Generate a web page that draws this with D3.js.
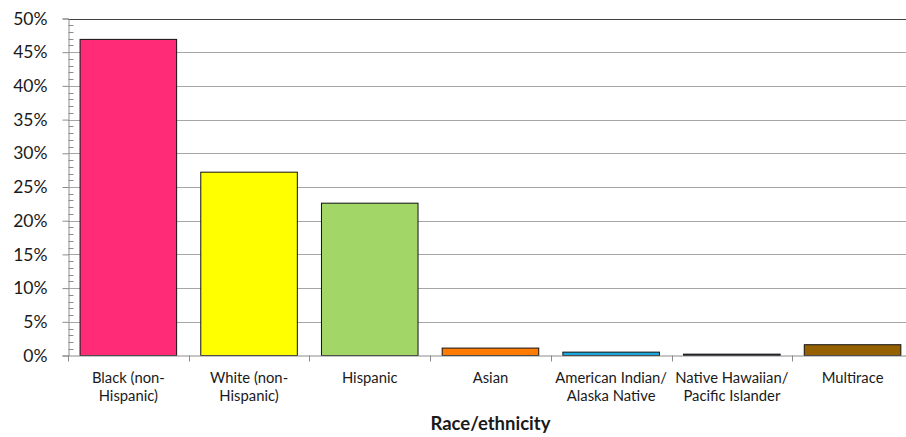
<!DOCTYPE html>
<html>
<head>
<meta charset="utf-8">
<script src="https://cdn.jsdelivr.net/npm/d3@7/dist/d3.min.js"></script>
<style>
  html, body { margin: 0; padding: 0; background: #fff; }
  svg { display: block; font-family: Lato, "Open Sans", sans-serif; }
</style>
</head>
<body>
<svg id="chart" width="906" height="437"></svg>
<script>
// Share of cases by race/ethnicity
const categories = [
  ["Black (non-", "Hispanic)"],
  ["White (non-", "Hispanic)"],
  ["Hispanic"],
  ["Asian"],
  ["American Indian/", "Alaska Native"],
  ["Native Hawaiian/", "Pacific Islander"],
  ["Multirace"]
];
const values = [46.9, 27.2, 22.6, 1.1, 0.5, 0.2, 1.6];
const colors = ["#FF2B77", "#FFFF00", "#A2D767", "#FF7C00", "#1BA8DC", "#2B1C3C", "#946000"];
const yTicks = [0, 5, 10, 15, 20, 25, 30, 35, 40, 45, 50];
const yMinorTicks = d3.range(0, 50, 1).filter(v => v % 5 !== 0);
const xTitle = "Race/ethnicity";

const svg = d3.select("#chart");
const plotLeft = 68, plotTop = 18.5, plotBottom = 355.5;
const band = 120.7;
const plotRight = plotLeft + band * categories.length;

const x = d3.scaleBand()
  .domain(d3.range(categories.length))
  .range([plotLeft, plotRight])
  .paddingInner(0.2)
  .paddingOuter(0.1);

const y = d3.scaleLinear().domain([0, 50]).range([plotBottom, plotTop]);

// gridlines
svg.append("g")
  .selectAll("line")
  .data(yTicks.filter(v => v > 0 && v < 50))
  .join("line")
  .attr("x1", plotLeft).attr("x2", 906)
  .attr("y1", d => Math.round(y(d)) + 0.5).attr("y2", d => Math.round(y(d)) + 0.5)
  .attr("stroke", "#a6a6a6").attr("stroke-width", 1);

// top border
svg.append("line")
  .attr("x1", plotLeft).attr("x2", 906)
  .attr("y1", Math.round(y(50)) + 0.5).attr("y2", Math.round(y(50)) + 0.5)
  .attr("stroke", "#404040").attr("stroke-width", 1.2);

// bars
svg.append("g")
  .selectAll("rect")
  .data(values)
  .join("rect")
  .attr("x", (d, i) => x(i))
  .attr("width", x.bandwidth())
  .attr("y", d => y(d))
  .attr("height", d => y(0) - y(d))
  .attr("fill", (d, i) => colors[i])
  .attr("stroke", "#111")
  .attr("stroke-width", 1);

// y axis: major ticks outside, minor ticks inside
const yAxis = svg.append("g").attr("transform", `translate(${plotLeft + 0.5},0)`);
yAxis.call(d3.axisLeft(y).tickValues(yTicks).tickSize(6).tickFormat(d => d + "%"));
yAxis.select(".domain").attr("stroke", "#8c8c8c");
yAxis.selectAll(".tick line").attr("stroke", "#8c8c8c");
yAxis.selectAll(".tick text")
  .attr("x", -21)
  .attr("font-size", 17.5)
  .attr("fill", "#1a1a1a")
  .attr("font-family", "Lato, 'Open Sans', sans-serif");
yAxis.append("g")
  .selectAll("line")
  .data(yMinorTicks)
  .join("line")
  .attr("x1", 0).attr("x2", 5)
  .attr("y1", d => Math.round(y(d)) + 0.5).attr("y2", d => Math.round(y(d)) + 0.5)
  .attr("stroke", "#8c8c8c");

// x axis line and category boundary ticks
const xb = d3.scaleLinear().domain([0, categories.length]).range([plotLeft, plotRight]);
svg.append("line")
  .attr("x1", plotLeft).attr("x2", 906)
  .attr("y1", plotBottom + 0.5).attr("y2", plotBottom + 0.5)
  .attr("stroke", "#8c8c8c");
svg.append("g")
  .selectAll("line")
  .data(d3.range(0, categories.length + 1))
  .join("line")
  .attr("x1", d => Math.round(xb(d)) + 0.5).attr("x2", d => Math.round(xb(d)) + 0.5)
  .attr("y1", plotBottom).attr("y2", plotBottom + 6)
  .attr("stroke", "#8c8c8c");

// category labels
const lab = svg.append("g")
  .selectAll("text")
  .data(categories)
  .join("text")
  .attr("text-anchor", "middle")
  .attr("font-size", 14.8)
  .attr("fill", "#1a1a1a")
  .attr("transform", (d, i) => `translate(${xb(i + 0.5)},382.5)`);
lab.selectAll("tspan")
  .data(d => d)
  .join("tspan")
  .attr("x", 0)
  .attr("dy", (d, j) => j === 0 ? 0 : 18)
  .text(d => d);

// axis title
svg.append("text")
  .attr("x", (plotLeft + plotRight) / 2).attr("y", 430)
  .attr("text-anchor", "middle")
  .attr("font-size", 18.5)
  .attr("font-weight", "bold")
  .attr("fill", "#1a1a1a")
  .text(xTitle);
</script>
</body>
</html>
